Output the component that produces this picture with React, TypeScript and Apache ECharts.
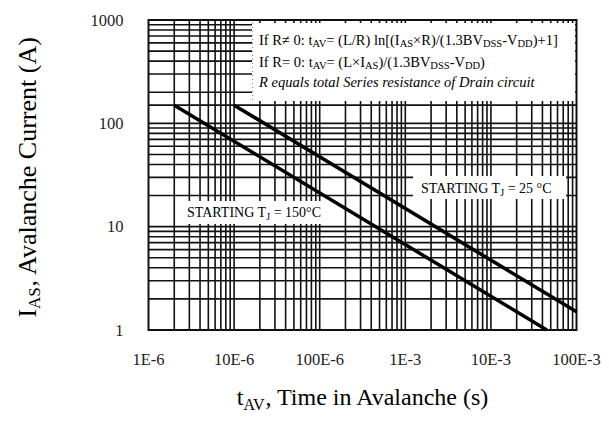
import React, { useEffect, useRef } from "react";
import * as echarts from "echarts";

// Tick labels
const xTickLabels = ["1E-6", "10E-6", "100E-6", "1E-3", "10E-3", "100E-3"];
const yTickLabels = ["1", "10", "100", "1000"];

// Curves (t in s, I in A)
const curve25C: [number, number][] = [
  [1e-5, 150],
  [0.1, 1.5],
];
const curve150C: [number, number][] = [
  [2e-6, 150],
  [0.045, 1],
];

// Log grid definition
const xDecades = [1e-6, 1e-5, 1e-4, 1e-3, 1e-2];
const yDecades = [1, 10, 100];
const gridSteps = [2, 3, 4, 5, 6, 7, 8, 9];
const yExtraGrid = [150];

const X_MIN = 1e-6;
const X_MAX = 0.1;
const Y_MIN = 1;
const Y_MAX = 1000;

const SERIF = "'Liberation Serif', 'DejaVu Serif', serif";

export default function App() {
  const ref = useRef<HTMLDivElement>(null);

  useEffect(() => {
    if (!ref.current) return;
    const chart = echarts.init(ref.current, undefined, { renderer: "svg" });

    const xGrid: number[] = [];
    xDecades.forEach((d) => {
      gridSteps.forEach((k) => xGrid.push(d * k));
      if (d > X_MIN) xGrid.push(d);
    });
    const yGrid: number[] = [];
    yDecades.forEach((d) => {
      gridSteps.forEach((k) => yGrid.push(d * k));
      if (d > Y_MIN) yGrid.push(d);
    });
    yExtraGrid.forEach((v) => yGrid.push(v));

    const gridStyle = { color: "#111", width: 1.6 };
    const gridSeries = [
      ...xGrid.map((v) => ({
        type: "line",
        data: [
          [v, Y_MIN],
          [v, Y_MAX],
        ],
        symbol: "none",
        silent: true,
        z: 1,
        lineStyle: gridStyle,
      })),
      ...yGrid.map((v) => ({
        type: "line",
        data: [
          [X_MIN, v],
          [X_MAX, v],
        ],
        symbol: "none",
        silent: true,
        z: 1,
        lineStyle: gridStyle,
      })),
    ];

    const sub = { fontSize: 10.5, fontFamily: SERIF, verticalAlign: "bottom", lineHeight: 8, color: "#1a1a1a" };
    const nrm = { fontSize: 14.5, fontFamily: SERIF, lineHeight: 18, color: "#1a1a1a" };
    const it = { fontSize: 14.5, fontFamily: SERIF, fontStyle: "italic", lineHeight: 18, color: "#333" };

    const lab = { fontSize: 14, fontFamily: SERIF, lineHeight: 18, color: "#333" };
    const labSub = { fontSize: 10, fontFamily: SERIF, verticalAlign: "bottom", lineHeight: 8, color: "#333" };

    const ttlX = { fontSize: 24, fontFamily: SERIF, lineHeight: 30, color: "#1a1a1a" };
    const ttlXSub = { fontSize: 16, fontFamily: SERIF, verticalAlign: "bottom", lineHeight: 13, color: "#1a1a1a" };
    const ttlY = { fontSize: 26, fontFamily: SERIF, lineHeight: 32, color: "#1a1a1a" };
    const ttlYSub = { fontSize: 17, fontFamily: SERIF, verticalAlign: "bottom", lineHeight: 14, color: "#1a1a1a" };

    chart.setOption({
      animation: false,
      backgroundColor: "#fff",
      grid: {
        left: 148.5,
        right: 32.5,
        top: 20,
        bottom: 93,
        show: true,
        borderColor: "#111",
        borderWidth: 2,
        backgroundColor: "#fff",
      },
      xAxis: {
        type: "log",
        min: X_MIN,
        max: X_MAX,
        logBase: 10,
        axisLine: { show: false },
        axisTick: { show: false },
        splitLine: { show: false },
        axisLabel: {
          margin: 21,
          fontSize: 16.5,
          fontFamily: SERIF,
          color: "#222",
          formatter: (_v: number, i: number) => xTickLabels[i] ?? "",
        },
      },
      yAxis: {
        type: "log",
        min: Y_MIN,
        max: Y_MAX,
        logBase: 10,
        axisLine: { show: false },
        axisTick: { show: false },
        splitLine: { show: false },
        axisLabel: {
          margin: 25,
          fontSize: 16.5,
          fontFamily: SERIF,
          color: "#222",
          formatter: (_v: number, i: number) => yTickLabels[i] ?? "",
        },
      },
      series: [
        ...gridSeries,
        {
          name: "Starting Tj = 25°C",
          type: "line",
          data: curve25C,
          z: 10,
          symbol: "none",
          lineStyle: { color: "#000", width: 3.5 },
        },
        {
          name: "Starting Tj = 150°C",
          type: "line",
          data: curve150C,
          z: 10,
          symbol: "none",
          lineStyle: { color: "#000", width: 3.5 },
        },
      ],
      graphic: [
        { type: "rect", z: 5, shape: { x: 252, y: 23, width: 323, height: 78 }, style: { fill: "#fff" } },
        {
          type: "line",
          z: 6,
          shape: { x1: 252.5, y1: 23, x2: 252.5, y2: 101 },
          style: { stroke: "#888", lineWidth: 1, lineDash: [1, 3] },
        },
        { type: "rect", z: 5, shape: { x: 176, y: 201, width: 146, height: 23 }, style: { fill: "#fff" } },
        { type: "rect", z: 5, shape: { x: 413, y: 176, width: 153, height: 23 }, style: { fill: "#fff" } },
        {
          type: "text",
          z: 20,
          x: 259,
          y: 40,
          style: {
            text:
              "{n|If R≠ 0: t}{s|AV}{n|= (L/R) ln[(I}{s|AS}{n|×R)/(1.3BV}{s|DSS}{n|-V}{s|DD}{n|)+1]}",
            rich: { n: nrm, s: sub },
            verticalAlign: "middle",
            align: "left",
          },
        },
        {
          type: "text",
          z: 20,
          x: 259,
          y: 61.5,
          style: {
            text: "{n|If R= 0: t}{s|AV}{n|= (L×I}{s|AS}{n|)/(1.3BV}{s|DSS}{n|-V}{s|DD}{n|)}",
            rich: { n: nrm, s: sub },
            verticalAlign: "middle",
            align: "left",
          },
        },
        {
          type: "text",
          z: 20,
          x: 259,
          y: 82,
          style: {
            text: "{i|R equals total Series resistance of Drain circuit}",
            rich: { i: it },
            verticalAlign: "middle",
            align: "left",
          },
        },
        {
          type: "text",
          z: 20,
          x: 187,
          y: 212,
          style: {
            text: "{n|STARTING T}{s|J}{n| = 150°C}",
            rich: { n: lab, s: labSub },
            verticalAlign: "middle",
            align: "left",
          },
        },
        {
          type: "text",
          z: 20,
          x: 421,
          y: 188,
          style: {
            text: "{n|STARTING T}{s|J}{n| = 25 °C}",
            rich: { n: lab, s: labSub },
            verticalAlign: "middle",
            align: "left",
          },
        },
        {
          type: "text",
          z: 20,
          x: 27,
          y: 177,
          rotation: Math.PI / 2,
          style: {
            text: "{n|I}{s|AS}{n|, Avalanche Current (A)}",
            rich: { n: ttlY, s: ttlYSub },
            verticalAlign: "middle",
            align: "center",
          },
        },
        {
          type: "text",
          z: 20,
          x: 363,
          y: 397,
          style: {
            text: "{n|t}{s|AV}{n|, Time in Avalanche (s)}",
            rich: { n: ttlX, s: ttlXSub },
            verticalAlign: "middle",
            align: "center",
          },
        },
      ],
    });

    return () => chart.dispose();
  }, []);

  return <div ref={ref} style={{ width: 609, height: 423, position: "absolute", left: 0, top: 0 }} />;
}
